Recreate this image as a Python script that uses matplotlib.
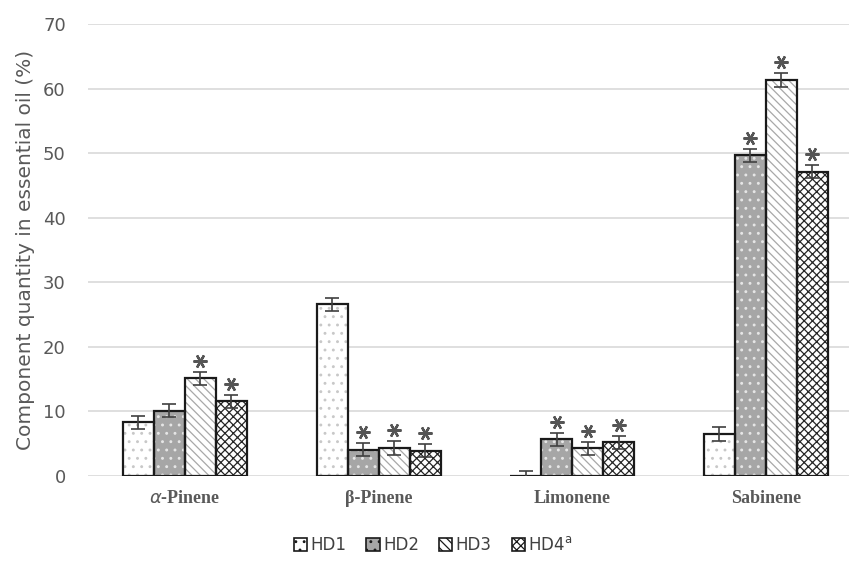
import matplotlib
matplotlib.use("Agg")
import matplotlib.pyplot as plt
import numpy as np
from matplotlib.patches import Patch

categories = [r"$\alpha$-Pinene", "β-Pinene", "Limonene", "Sabinene"]
series = ["HD1", "HD2", "HD3", "HD4$^{\\mathregular{a}}$"]
values = [
    [8.3, 26.6, 0.0, 6.5],     # HD1
    [10.1, 4.1, 5.7, 49.7],    # HD2
    [15.1, 4.3, 4.3, 61.3],    # HD3
    [11.6, 3.9, 5.2, 47.1],    # HD4
]
errors = [
    [1.0, 1.0, 0.8, 1.1],
    [1.0, 1.0, 1.0, 1.0],
    [1.0, 1.1, 1.0, 1.1],
    [1.0, 1.0, 1.0, 1.0],
]
starred = [
    [False, False, False, False],
    [False, True, True, True],
    [True, True, True, True],
    [True, True, True, True],
]

faces = ["white", "#a6a6a6", "white", "white"]
hatch_cols = ["#c8c8c8", "#e6e6e6", "#a8a8a8", "#262626"]
hatches = ["..", "..", "\\\\\\\\", "xxxx"]

plt.rcParams["hatch.linewidth"] = 0.9

fig = plt.figure(figsize=(8.49, 5.65), dpi=100)
ax = fig.add_axes([88 / 849, 1 - 476 / 565, 1 - 88 / 849, (476 - 24) / 565])

x = np.arange(len(categories))
w = 0.16
for i in range(4):
    pos = x + (i - 1.5) * w
    ax.bar(pos, values[i], w, color=faces[i], hatch=hatches[i],
           edgecolor=hatch_cols[i], linewidth=0, zorder=2)
    ax.bar(pos, values[i], w, fill=False, edgecolor="#1a1a1a", linewidth=1.6, zorder=3)
    ax.errorbar(pos, values[i], yerr=errors[i], fmt="none", ecolor="#404040",
                elinewidth=1.2, capsize=5, capthick=1.2, zorder=4)
    sx = [pos[j] for j in range(len(categories)) if starred[i][j]]
    sy = [values[i][j] + errors[i][j] + 1.7 for j in range(len(categories)) if starred[i][j]]
    ax.plot(sx, sy, linestyle="none", marker=(6, 2, 90), markersize=10,
            markeredgewidth=1.7, color="#555555", zorder=5)

ax.set_ylim(0, 70)
ax.set_xlim(-0.5, -0.5 + 761 / 193.7)
ax.set_yticks(range(0, 71, 10))
ax.yaxis.grid(True, color="#d9d9d9", linewidth=1.2)
ax.set_axisbelow(True)
for s in ax.spines.values():
    s.set_visible(False)
ax.tick_params(axis="both", length=0)
ax.tick_params(axis="y", labelsize=13, labelcolor="#595959", pad=16)
ax.set_xticks(x)
ax.set_xticklabels(categories, fontsize=13, fontweight="bold", color="#595959",
                   family="Liberation Serif")
ax.tick_params(axis="x", pad=10)
ax.set_ylabel("Component quantity in essential oil (%)", fontsize=14.5, color="#595959",
              labelpad=6)

handles = [Patch(facecolor=faces[i], hatch=hatches[i], edgecolor="#1a1a1a", linewidth=1.2)
           for i in range(4)]
fig.legend(handles, series, loc="center", bbox_to_anchor=(0.51, 0.035), ncol=4,
           frameon=False, fontsize=12, handlelength=0.8, handleheight=0.8,
           handletextpad=0.2, columnspacing=1.2, labelcolor="#404040")

fig.savefig("out.png", dpi=100)
